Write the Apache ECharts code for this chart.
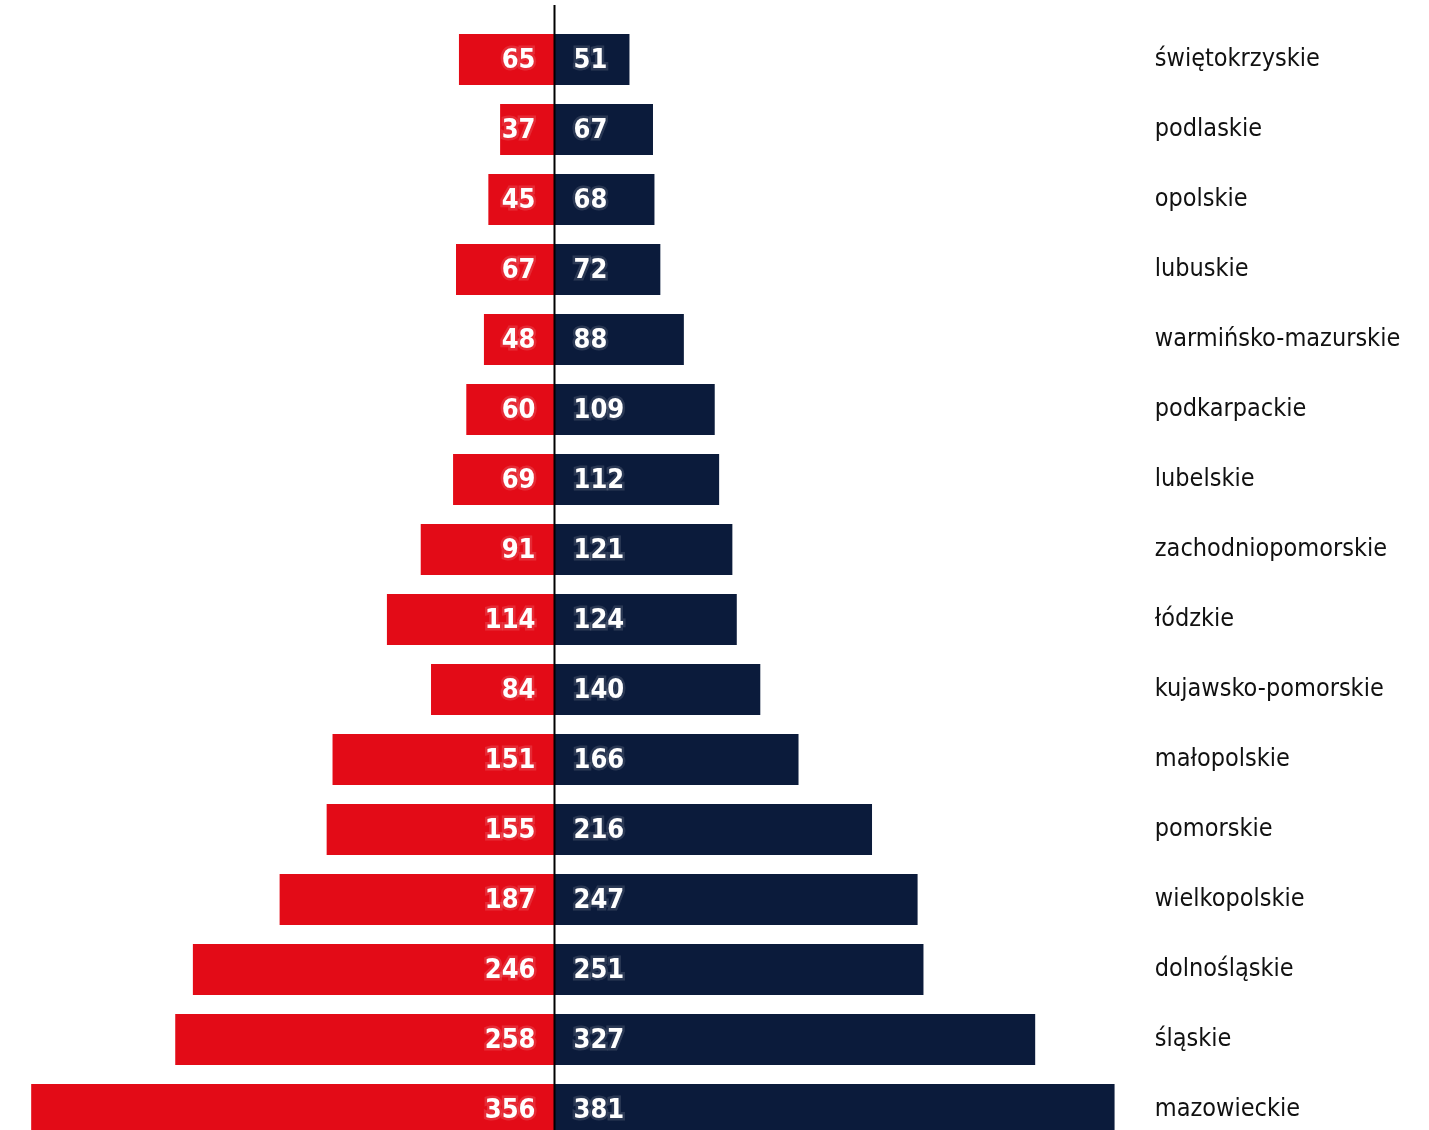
<!DOCTYPE html>
<html>
<head>
<meta charset="utf-8">
<script src="https://cdn.jsdelivr.net/npm/echarts@6/dist/echarts.min.js"></script>
<style>
  html, body { margin: 0; padding: 0; background: #fff; }
  #chart { width: 1429px; height: 1130px; }
</style>
</head>
<body>
<div id="chart"></div>
<script>
// Voivodeships, top to bottom
const regions = [
  'świętokrzyskie', 'podlaskie', 'opolskie', 'lubuskie', 'warmińsko-mazurskie',
  'podkarpackie', 'lubelskie', 'zachodniopomorskie', 'łódzkie', 'kujawsko-pomorskie',
  'małopolskie', 'pomorskie', 'wielkopolskie', 'dolnośląskie', 'śląskie', 'mazowieckie'
];
// Left (red) side values
const leftValues = [65, 37, 45, 67, 48, 60, 69, 91, 114, 84, 151, 155, 187, 246, 258, 356];
// Right (navy) side values
const rightValues = [51, 67, 68, 72, 88, 109, 112, 121, 124, 140, 166, 216, 247, 251, 327, 381];

const RED = '#E30B17';
const NAVY = '#0B1B3B';
const FONT = '"DejaVu Sans Condensed", "DejaVu Sans", sans-serif';

const chart = echarts.init(document.getElementById('chart'), null, { renderer: 'canvas' });

const valueLabel = (pos) => ({
  show: true,
  position: pos,
  distance: 19,
  offset: [0, 1],
  color: '#fff',
  fontFamily: FONT,
  fontWeight: 'bold',
  fontSize: 27,
  textBorderColor: 'rgba(255,255,255,0.13)',
  textBorderWidth: 5,
  formatter: (p) => Math.abs(p.value)
});

chart.setOption({
  animation: false,
  grid: {
    left: 10.6, width: 1117.2, top: 24.5, height: 1120,
    containLabel: false, outerBoundsMode: 'none'
  },
  xAxis: {
    type: 'value',
    min: -370,
    max: 390,
    show: false
  },
  yAxis: {
    type: 'category',
    data: regions,
    inverse: true,
    position: 'right',
    axisLine: { show: false },
    axisTick: { show: false },
    splitLine: { show: false },
    axisLabel: {
      margin: 27,
      color: '#111',
      fontFamily: FONT,
      fontSize: 25,
      align: 'left'
    }
  },
  series: [
    {
      name: 'left',
      type: 'bar',
      stack: 'total',
      barWidth: 51,
      itemStyle: { color: RED },
      label: valueLabel('insideRight'),
      data: leftValues.map(v => -v)
    },
    {
      name: 'right',
      type: 'bar',
      stack: 'total',
      barWidth: 51,
      itemStyle: { color: NAVY },
      label: valueLabel('insideLeft'),
      data: rightValues
    }
  ]
});

// Centre divider at the zero value, running from just below the top edge
const zeroX = chart.convertToPixel({ xAxisIndex: 0 }, 0);
chart.setOption({
  graphic: [{
    type: 'line',
    z: 10,
    shape: { x1: zeroX, y1: 5, x2: zeroX, y2: 1130 },
    style: { stroke: '#000', lineWidth: 2 }
  }]
});
</script>
</body>
</html>
